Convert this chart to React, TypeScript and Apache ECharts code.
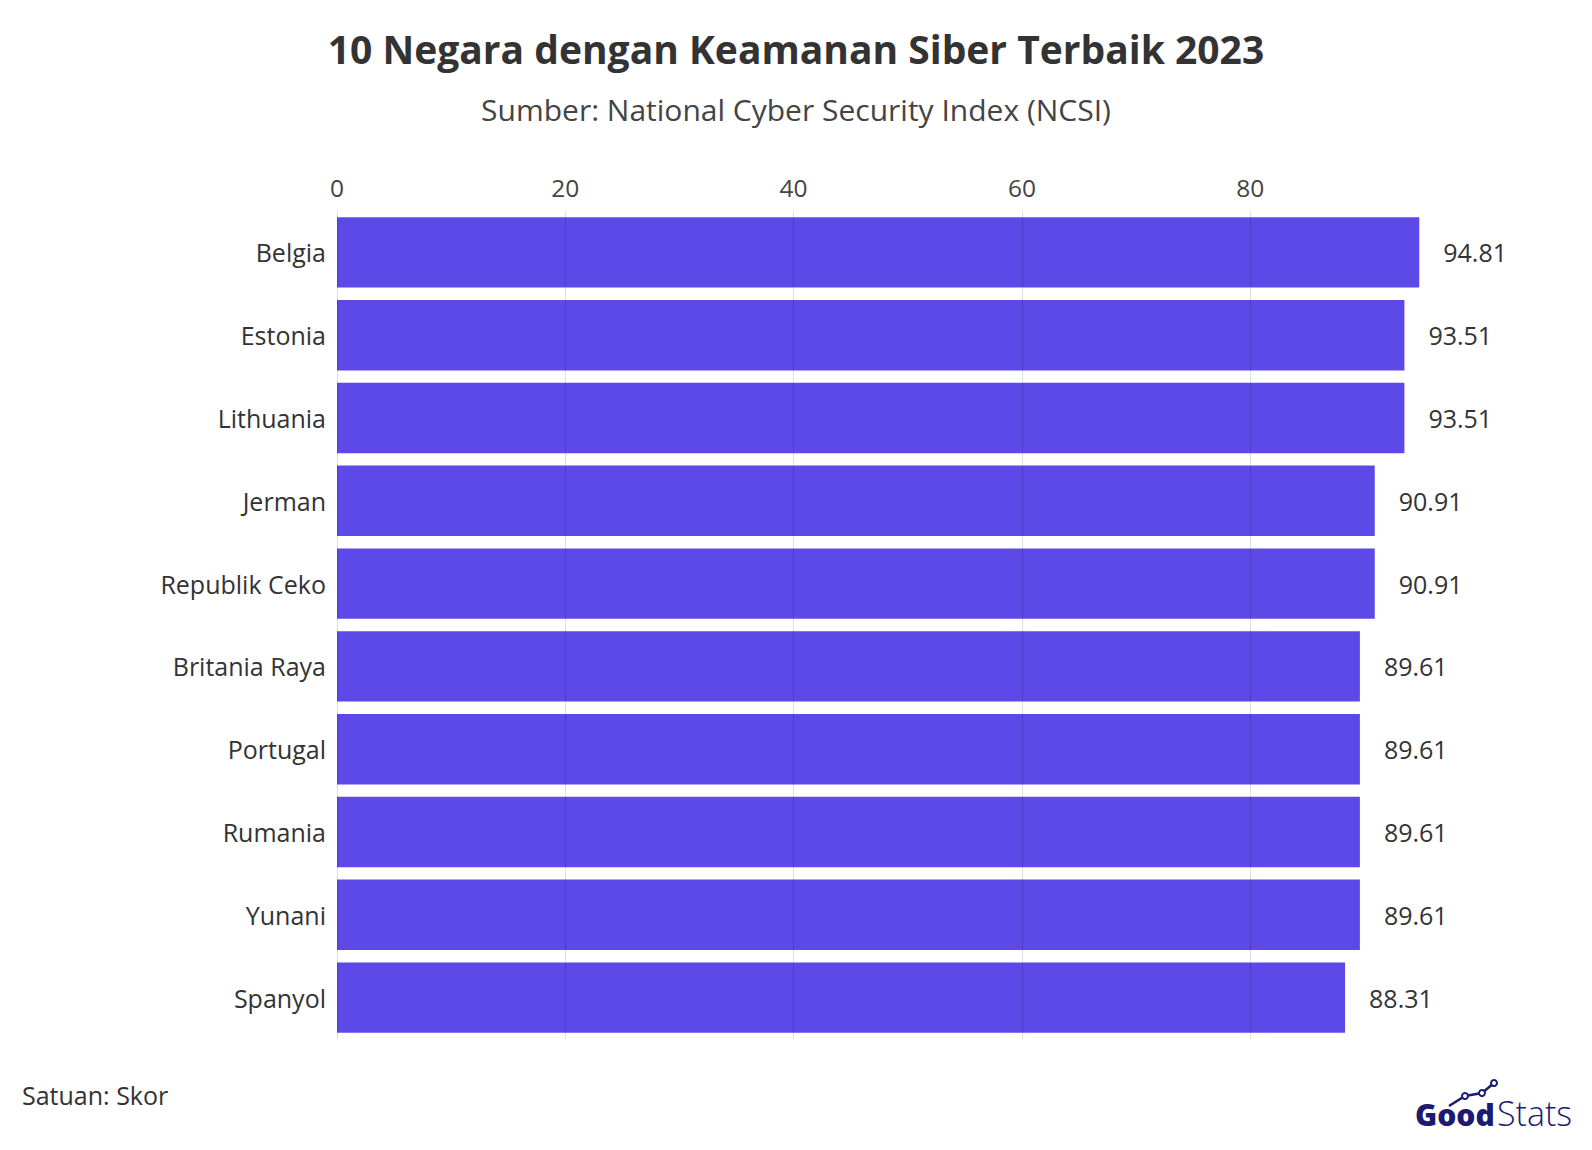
import React, { useEffect, useRef } from "react";
import * as echarts from "echarts";

const TITLE = "10 Negara dengan Keamanan Siber Terbaik 2023";
const SUBTITLE = "Sumber: National Cyber Security Index (NCSI)";
const UNIT_NOTE = "Satuan: Skor";

const countries = [
  "Belgia",
  "Estonia",
  "Lithuania",
  "Jerman",
  "Republik Ceko",
  "Britania Raya",
  "Portugal",
  "Rumania",
  "Yunani",
  "Spanyol",
];
const scores = [94.81, 93.51, 93.51, 90.91, 90.91, 89.61, 89.61, 89.61, 89.61, 88.31];

const FONT = "'Open Sans', 'Noto Sans', sans-serif";
const BAR_COLOR = "#5D49E8";
const NAVY = "#1C1B72";

export default function App() {
  const ref = useRef<HTMLDivElement>(null);
  useEffect(() => {
    if (!ref.current) return;
    const chart = echarts.init(ref.current, undefined, { renderer: "svg" });
    chart.setOption({
      animation: false,
      backgroundColor: "#ffffff",
      textStyle: { fontFamily: FONT },
      title: [
        {
          text: TITLE,
          left: "center",
          top: 24,
          textStyle: { fontFamily: FONT, fontSize: 39, fontWeight: "bold", color: "#333333" },
        },
        {
          text: SUBTITLE,
          left: "center",
          top: 89,
          textStyle: { fontFamily: FONT, fontSize: 30, fontWeight: "normal", color: "#444444" },
        },
      ],
      grid: { left: 337, top: 211, width: 1141.5, height: 828, containLabel: false },
      xAxis: {
        type: "value",
        position: "top",
        min: 0,
        max: 100,
        interval: 20,
        z: 5,
        axisLine: { show: false },
        axisTick: { show: false },
        axisLabel: {
          showMaxLabel: false,
          margin: 11,
          fontSize: 24.5,
          color: "#444444",
          fontFamily: FONT,
        },
        splitLine: {
          show: true,
          showMaxLine: false,
          lineStyle: { color: "rgba(0,0,0,0.13)", width: 1 },
        },
      },
      yAxis: {
        type: "category",
        data: countries,
        inverse: true,
        axisLine: { show: false },
        axisTick: { show: false },
        axisLabel: { margin: 11, fontSize: 25, color: "#333333", fontFamily: FONT },
        splitLine: { show: false },
      },
      series: [
        {
          type: "bar",
          data: scores,
          barCategoryGap: "15%",
          itemStyle: { color: BAR_COLOR },
          label: {
            show: true,
            position: "right",
            distance: 24,
            fontSize: 25,
            color: "#333333",
            fontFamily: FONT,
            formatter: (p: any) => p.value.toFixed(2),
          },
        },
      ],
      graphic: [
        {
          type: "text",
          left: 22,
          top: 1082,
          style: { text: UNIT_NOTE, fontSize: 25, fill: "#333333", fontFamily: FONT },
        },
        {
          type: "text",
          x: 1415,
          y: 1129,
          style: {
            text: "Good",
            fontSize: 30,
            fontWeight: 800,
            fill: NAVY,
            fontFamily: FONT,
            textVerticalAlign: "bottom",
          },
        },
        {
          type: "text",
          x: 1497,
          y: 1130,
          style: {
            text: "Stats",
            fontSize: 34,
            fontWeight: 300,
            fill: NAVY,
            fontFamily: FONT,
            textVerticalAlign: "bottom",
          },
        },
        {
          type: "polyline",
          shape: { points: [[1449, 1106], [1465, 1096], [1482, 1093], [1494, 1083]] },
          style: { stroke: NAVY, lineWidth: 2.5, fill: null },
        },
        { type: "circle", shape: { cx: 1465, cy: 1096, r: 3 }, style: { fill: "#fff", stroke: NAVY, lineWidth: 2 } },
        { type: "circle", shape: { cx: 1482, cy: 1093, r: 3 }, style: { fill: "#fff", stroke: NAVY, lineWidth: 2 } },
        { type: "circle", shape: { cx: 1494, cy: 1083, r: 3 }, style: { fill: "#fff", stroke: NAVY, lineWidth: 2 } },
      ],
    });
    return () => chart.dispose();
  }, []);
  return (
    <div
      ref={ref}
      style={{ position: "absolute", left: 0, top: 0, width: 1592, height: 1150 }}
    />
  );
}
